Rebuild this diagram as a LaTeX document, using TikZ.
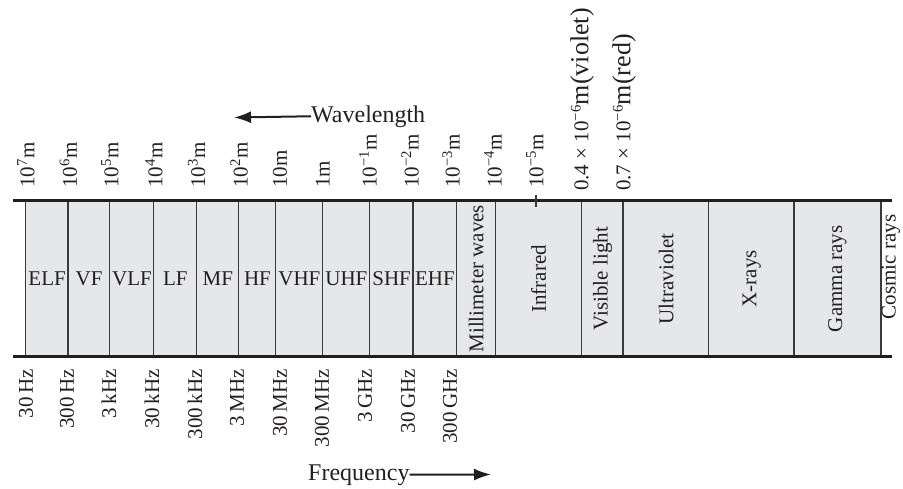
\documentclass[tikz,border=0pt]{standalone}
\usepackage{fontspec}
\setmainfont{Liberation Serif}
\usetikzlibrary{arrows.meta}
\definecolor{ink}{HTML}{231F20}
\definecolor{cellfill}{HTML}{E6E7E8}
\definecolor{rule}{HTML}{3A3A3A}
\newcommand{\bigpart}[1]{{\fontsize{26}{30}\selectfont #1}}
\begin{document}
\begin{tikzpicture}[x=1pt,y=-1pt,
  every node/.style={text=ink, inner sep=0pt, font=\fontsize{21}{25}\selectfont},
  cell/.style={fill=cellfill, draw=none, minimum height=156pt},
  sidelab/.style={rotate=90},
  toplab/.style={rotate=90, anchor=west},
  botlab/.style={rotate=90, anchor=east},
  axislab/.style={font=\fontsize{24}{28}\selectfont},
  thinrule/.style={draw=rule, line width=1.3pt},
  thickrule/.style={draw=ink, line width=3.3pt},
  axisarrow/.style={draw=ink, line width=2pt, -{Latex[length=17pt,width=12pt]}}
]
\useasboundingbox (0,0) rectangle (903,488);
% cells
\foreach \a/\b/\t/\n/\r in {
  26/68.3/ELF/c1/0, 68.3/110/VF/c2/0, 110/154/VLF/c3/0, 154/196.7/LF/c4/0,
  196.7/239/MF/c5/0, 239/276/HF/c6/0, 276/322.7/VHF/c7/0, 322.7/370/UHF/c8/0,
  370/413.3/SHF/c9/0, 413.3/456.7/EHF/c10/0, 456.7/495.7/Millimeter waves/c11/90,
  495.7/581.7/Infrared/c12/90, 581.7/623.3/Visible light/c13/90,
  623.3/709/Ultraviolet/c14/90, 709/794.3/X-rays/c15/90, 794.3/880.7/Gamma rays/c16/90}{
  \node[cell, minimum width={(\b-\a)*1pt}] (\n) at ({(\a+\b)/2},278.7) {};
  \node[rotate=\r] (\n t) at (\n.center) {\t};
  \draw[thinrule] (\n.north west) -- (\n.south west);
}
\draw[thinrule] (c16.north east) -- (c16.south east);
\node[sidelab] (cosmic) at (891,267) {Cosmic rays};
% thick rules
\coordinate (tl) at (13,200.7);
\coordinate (tr) at (891.7,200.7);
\coordinate (bl) at (13,356.7);
\coordinate (br) at (891.7,356.7);
\draw[thickrule] (tl) -- (tr);
\draw[thickrule] (bl) -- (br);
% tick at 10^-5 m
\coordinate (tk1) at (536,194.5);
\coordinate (tk2) at (536,207);
\draw[thinrule] (tk1) -- (tk2);
% wavelength labels
\node[toplab] (w1) at (26,188) {10\textsuperscript{7}m};
\node[toplab] (w2) at (68.3,188) {10\textsuperscript{6}m};
\node[toplab] (w3) at (110,188) {10\textsuperscript{5}m};
\node[toplab] (w4) at (154,188) {10\textsuperscript{4}m};
\node[toplab] (w5) at (196.7,188) {10\textsuperscript{3}m};
\node[toplab] (w6) at (239,188) {10\textsuperscript{2}m};
\node[toplab] (w7) at (280,188) {10m};
\node[toplab] (w8) at (322.7,188) {1m};
\node[toplab] (w9) at (368,188) {10\textsuperscript{−1}m};
\node[toplab] (w10) at (410,188) {10\textsuperscript{−2}m};
\node[toplab] (w11) at (451,188) {10\textsuperscript{−3}m};
\node[toplab] (w12) at (493,188) {10\textsuperscript{−4}m};
\node[toplab] (w13) at (535,188) {10\textsuperscript{−5}m};
\node[toplab] (w14) at (582,191) {0.4 × 10\textsuperscript{−6}\bigpart{m(violet)}};
\node[toplab] (w15) at (624,191) {0.7 × 10\textsuperscript{−6}\bigpart{m(red)}};
% frequency labels
\node[botlab] (f1) at (26,369) {30\,Hz};
\node[botlab] (f2) at (67,369) {300\,Hz};
\node[botlab] (f3) at (109,369) {3\,kHz};
\node[botlab] (f4) at (152,369) {30\,kHz};
\node[botlab] (f5) at (195,369) {300\,kHz};
\node[botlab] (f6) at (237,369) {3\,MHz};
\node[botlab] (f7) at (280,369) {30\,MHz};
\node[botlab] (f8) at (322,369) {300\,MHz};
\node[botlab] (f9) at (365,369) {3\,GHz};
\node[botlab] (f10) at (408,369) {30\,GHz};
\node[botlab] (f11) at (450,369) {300\,GHz};
% axis arrows
\node[axislab, anchor=base west] (wl) at (311,122) {Wavelength};
\coordinate (wltip) at (234,117.5);
\draw[axisarrow] (wl.west) -- (wltip);
\node[axislab, anchor=base west] (fq) at (308,480) {Frequency};
\coordinate (fqtip) at (491,474.5);
\draw[axisarrow] (fq.east) -- (fqtip);
\end{tikzpicture}
\end{document}
